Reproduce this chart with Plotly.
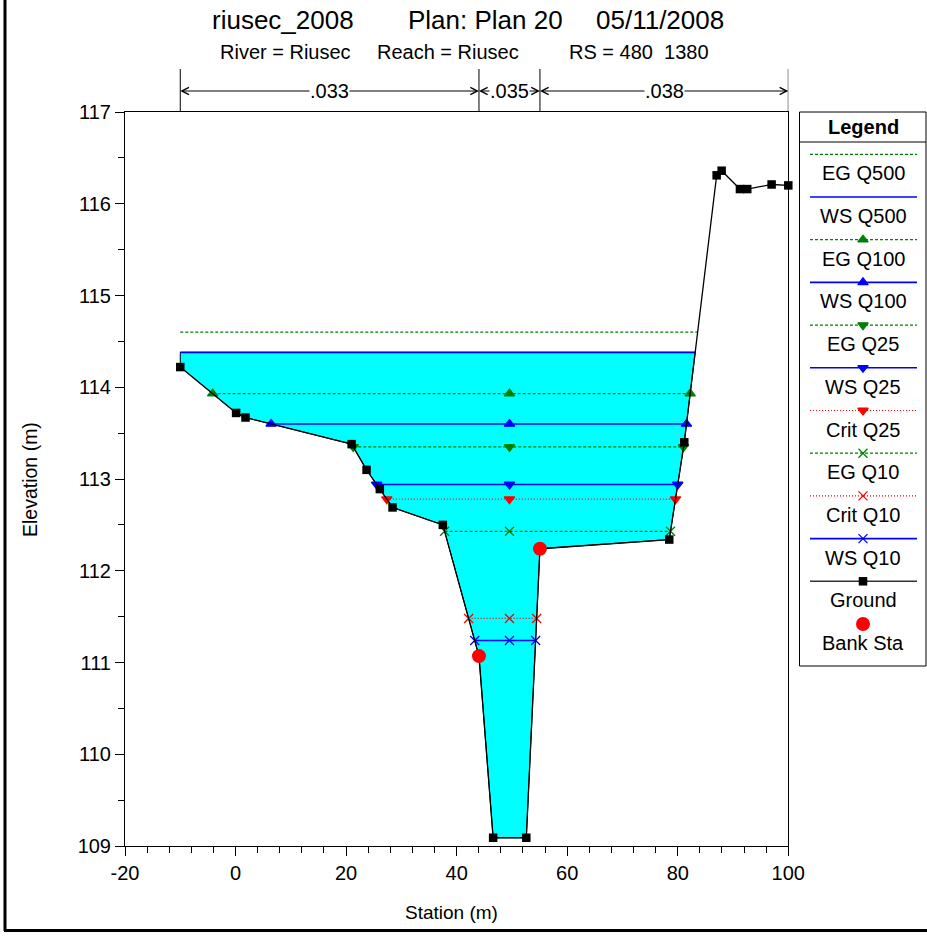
import numpy as np
import plotly.graph_objects as go

# ---------------- data ----------------
ground_sta = [-10.0, 0.1, 1.8, 21.0, 23.7, 26.1, 28.4, 37.5, 44.04, 46.6,
              52.6, 55.07, 78.46, 81.18, 87.04, 87.94, 91.25, 92.57, 96.98, 100.0]
ground_elev = [114.22, 113.72, 113.67, 113.38, 113.10, 112.89, 112.69, 112.50, 111.07, 109.09,
               109.09, 112.24, 112.34, 113.40, 116.31, 116.36, 116.16, 116.16, 116.21, 116.20]
bank_sta = [44.04, 55.07]
bank_elev = [111.07, 112.24]

profile_names = ["EG Q500", "WS Q500", "EG Q100", "WS Q100", "EG Q25", "WS Q25",
                 "Crit Q25", "EG Q10", "Crit Q10", "WS Q10"]
profile_elev = [114.60, 114.38, 113.93, 113.60, 113.35, 112.94, 112.78, 112.43, 111.48, 111.24]

n_values = [".033", ".035", ".038"]
n_breaks = [-10.0, 44.04, 55.07, 100.0]

title_parts = ["riusec_2008", "Plan: Plan 20", "05/11/2008"]
subtitle_parts = ["River = Riusec", "Reach = Riusec", "RS = 480  1380"]

x_ticks = [-20, 0, 20, 40, 60, 80, 100]
y_ticks = [109, 110, 111, 112, 113, 114, 115, 116, 117]
x_range = [-20, 100]
y_range = [109, 117]

# ---------------- styles ----------------
FONT = "Liberation Sans, Arial, sans-serif"
GREEN, BLUE, RED, CYAN = "#008000", "#0000ff", "#ff0000", "#00ffff"
styles = {
    "EG Q500": dict(color=GREEN, dash="3px,2px", width=1.2, symbol=None),
    "WS Q500": dict(color=BLUE, dash="solid", width=1.6, symbol=None),
    "EG Q100": dict(color=GREEN, dash="3px,2px", width=1.2, symbol="triangle-up"),
    "WS Q100": dict(color=BLUE, dash="solid", width=1.6, symbol="triangle-up"),
    "EG Q25": dict(color=GREEN, dash="3px,2px", width=1.2, symbol="triangle-down"),
    "WS Q25": dict(color=BLUE, dash="solid", width=1.6, symbol="triangle-down"),
    "Crit Q25": dict(color=RED, dash="1px,2px", width=1.2, symbol="triangle-down"),
    "EG Q10": dict(color=GREEN, dash="3px,2px", width=1.2, symbol="x-thin"),
    "Crit Q10": dict(color=RED, dash="1px,2px", width=1.2, symbol="x-thin"),
    "WS Q10": dict(color=BLUE, dash="solid", width=1.6, symbol="x-thin"),
}

W, H = 927, 936
PX0, PX1, PY0, PY1 = 125, 788.3, 112, 846  # plot box in pixels

gx = np.array(ground_sta)
gz = np.array(ground_elev)
imin = int(np.argmin(gz))
chan_mid = float(np.mean(bank_sta))


def extent(level):
    """Left/right water edge for an elevation, walking out from the thalweg."""
    i = imin
    while i > 0 and gz[i - 1] < level:
        i -= 1
    if i == 0:
        xl = gx[0]
    else:
        xl = gx[i - 1] + (level - gz[i - 1]) * (gx[i] - gx[i - 1]) / (gz[i] - gz[i - 1])
    j = imin
    while j < len(gx) - 1 and gz[j + 1] < level:
        j += 1
    if j == len(gx) - 1:
        xr = gx[-1]
    else:
        xr = gx[j] + (level - gz[j]) * (gx[j + 1] - gx[j]) / (gz[j + 1] - gz[j])
    return float(xl), float(xr), i, j


fig = go.Figure()

# water fill (highest water surface)
wl = profile_elev[profile_names.index("WS Q500")]
xl, xr, i0, j0 = extent(wl)
fx = [xl] + list(gx[i0:j0 + 1]) + [xr, xl]
fz = [wl] + list(gz[i0:j0 + 1]) + [wl, wl]
fig.add_trace(go.Scatter(x=fx, y=fz, mode="lines", fill="toself", fillcolor=CYAN,
                         line=dict(color="black", width=1), hoverinfo="skip"))

# profiles
for name, lev in zip(profile_names, profile_elev):
    st = styles[name]
    a, b, _, _ = extent(lev)
    if st["symbol"] is None:
        xs, ys, mode = [a, b], [lev, lev], "lines"
    else:
        xs, ys, mode = [a, chan_mid, b], [lev, lev, lev], "lines+markers"
    mk = dict(symbol=st["symbol"] or "circle", size=9, color=st["color"],
              line=dict(color=st["color"], width=1.3))
    fig.add_trace(go.Scatter(x=xs, y=ys, mode=mode, cliponaxis=False,
                             line=dict(color=st["color"], width=st["width"], dash=st["dash"]),
                             marker=mk, hoverinfo="skip"))

# ground
fig.add_trace(go.Scatter(x=ground_sta, y=ground_elev, mode="lines+markers", cliponaxis=False,
                         line=dict(color="black", width=1.3),
                         marker=dict(symbol="square", size=8.5, color="black"), hoverinfo="skip"))
# bank stations
fig.add_trace(go.Scatter(x=bank_sta, y=bank_elev, mode="markers", cliponaxis=False,
                         marker=dict(symbol="circle", size=14, color=RED), hoverinfo="skip"))

# ---------------- custom legend (pixel axes x2/y2) ----------------
shapes = []
annotations = []
LX0, LX1, LY0, LY1 = 799.5, 926, 112, 666
shapes.append(dict(type="rect", xref="x2", yref="y2", x0=LX0, x1=LX1, y0=LY0, y1=LY1,
                   line=dict(color="black", width=1)))
shapes.append(dict(type="line", xref="x2", yref="y2", x0=LX0, x1=LX1, y0=142, y1=142,
                   line=dict(color="black", width=1)))
annotations.append(dict(xref="x2", yref="y2", x=863, y=127, text="<b>Legend</b>", showarrow=False,
                        font=dict(family=FONT, size=20, color="black")))

legend_items = profile_names + ["Ground", "Bank Sta"]
for k, name in enumerate(legend_items):
    yy = 154.3 + 42.7 * k
    if name in styles:
        st = styles[name]
        fig.add_trace(go.Scatter(x=[810, 917], y=[yy, yy], xaxis="x2", yaxis="y2", mode="lines",
                                 line=dict(color=st["color"], width=st["width"], dash=st["dash"]),
                                 hoverinfo="skip"))
        if st["symbol"]:
            fig.add_trace(go.Scatter(x=[863], y=[yy], xaxis="x2", yaxis="y2", mode="markers",
                                     marker=dict(symbol=st["symbol"], size=9, color=st["color"],
                                                 line=dict(color=st["color"], width=1.3)),
                                     hoverinfo="skip"))
    elif name == "Ground":
        fig.add_trace(go.Scatter(x=[810, 917], y=[yy, yy], xaxis="x2", yaxis="y2", mode="lines",
                                 line=dict(color="#333333", width=1.5), hoverinfo="skip"))
        fig.add_trace(go.Scatter(x=[863], y=[yy], xaxis="x2", yaxis="y2", mode="markers",
                                 marker=dict(symbol="square", size=8.5, color="black"),
                                 hoverinfo="skip"))
    else:
        fig.add_trace(go.Scatter(x=[863], y=[yy], xaxis="x2", yaxis="y2", mode="markers",
                                 marker=dict(symbol="circle", size=14, color=RED), hoverinfo="skip"))
    annotations.append(dict(xref="x2", yref="y2", x=863, y=yy + 19, text=name, showarrow=False,
                            font=dict(family=FONT, size=20, color="black")))

# ---------------- titles ----------------
for txt, cx in zip(title_parts, [283, 485, 660]):
    annotations.append(dict(xref="x2", yref="y2", x=cx, y=20, text=txt, showarrow=False,
                            font=dict(family=FONT, size=26, color="black")))
for txt, cx in zip(subtitle_parts, [285, 448, 639]):
    annotations.append(dict(xref="x2", yref="y2", x=cx, y=52, text=txt, showarrow=False,
                            font=dict(family=FONT, size=20, color="black")))

annotations.append(dict(xref="x2", yref="y2", x=451, y=912, text="Station (m)", showarrow=False,
                        font=dict(family=FONT, size=19, color="black")))
annotations.append(dict(xref="x2", yref="y2", x=30, y=480, text="Elevation (m)", showarrow=False,
                        textangle=-90, font=dict(family=FONT, size=19.5, color="black")))

# ---------------- Manning's n bar ----------------
NY = 91
for xb in n_breaks:
    shapes.append(dict(type="line", xref="x", yref="paper", x0=xb, x1=xb,
                       y0=1 - 69 / H, y1=1 - PY0 / H, line=dict(color="black", width=1)))
for k, nv in enumerate(n_values):
    a, b = n_breaks[k], n_breaks[k + 1]
    c = (a + b) / 2
    for end in (a, b):
        annotations.append(dict(xref="x", yref="y2", x=end, y=NY, axref="x", ayref="y2", ax=c, ay=NY,
                                text="", showarrow=True, arrowhead=5, arrowsize=1.4, arrowwidth=1,
                                arrowcolor="black", standoff=0, startstandoff=0))
    annotations.append(dict(xref="x", yref="y2", x=c, y=NY, text=nv, showarrow=False,
                            bgcolor="white", borderpad=0,
                            font=dict(family=FONT, size=20, color="black")))

# outer frame (left and bottom edges visible in the reference)
shapes.append(dict(type="line", xref="x2", yref="y2", x0=5, x1=5, y0=0, y1=931,
                   line=dict(color="black", width=3)))
shapes.append(dict(type="line", xref="x2", yref="y2", x0=4, x1=927, y0=930.5, y1=930.5,
                   line=dict(color="black", width=3)))

axis_font = dict(family=FONT, size=20, color="black")
fig.update_layout(
    template="none",
    width=W, height=H, margin=dict(l=0, r=0, t=0, b=0, pad=0, autoexpand=False),
    paper_bgcolor="white", plot_bgcolor="rgba(0,0,0,0)", showlegend=False,
    xaxis=dict(domain=[PX0 / W, PX1 / W], range=x_range, tickmode="array", tickvals=x_ticks,
               ticktext=[str(v) for v in x_ticks],
               ticks="outside", ticklen=9, tickcolor="black", showline=True, linecolor="black",
               linewidth=1, mirror=True, showgrid=False, zeroline=False, tickfont=axis_font,
               minor=dict(tickmode="linear", tick0=-20, dtick=4, ticks="outside", ticklen=6,
                          tickcolor="black", showgrid=False),
               anchor="y", fixedrange=True, automargin=False),
    yaxis=dict(domain=[1 - PY1 / H, 1 - PY0 / H], range=y_range, tickmode="array", tickvals=y_ticks,
               ticktext=[str(v) for v in y_ticks],
               ticks="outside", ticklen=9, tickcolor="black", showline=True, linecolor="black",
               linewidth=1, mirror=True, showgrid=False, zeroline=False, tickfont=axis_font,
               minor=dict(tickmode="linear", tick0=109, dtick=0.5, ticks="outside", ticklen=6,
                          tickcolor="black", showgrid=False),
               anchor="x", fixedrange=True, automargin=False),
    xaxis2=dict(domain=[0, 1], range=[0, W], visible=False, anchor="y2", fixedrange=True,
                automargin=False),
    yaxis2=dict(domain=[0, 1], range=[H, 0], visible=False, anchor="x2", fixedrange=True,
                automargin=False),
    shapes=shapes, annotations=annotations,
)

fig.write_html("out.html", config={"displayModeBar": False, "staticPlot": True},
               post_script="document.body.style.margin='0';document.body.style.overflow='hidden';")
